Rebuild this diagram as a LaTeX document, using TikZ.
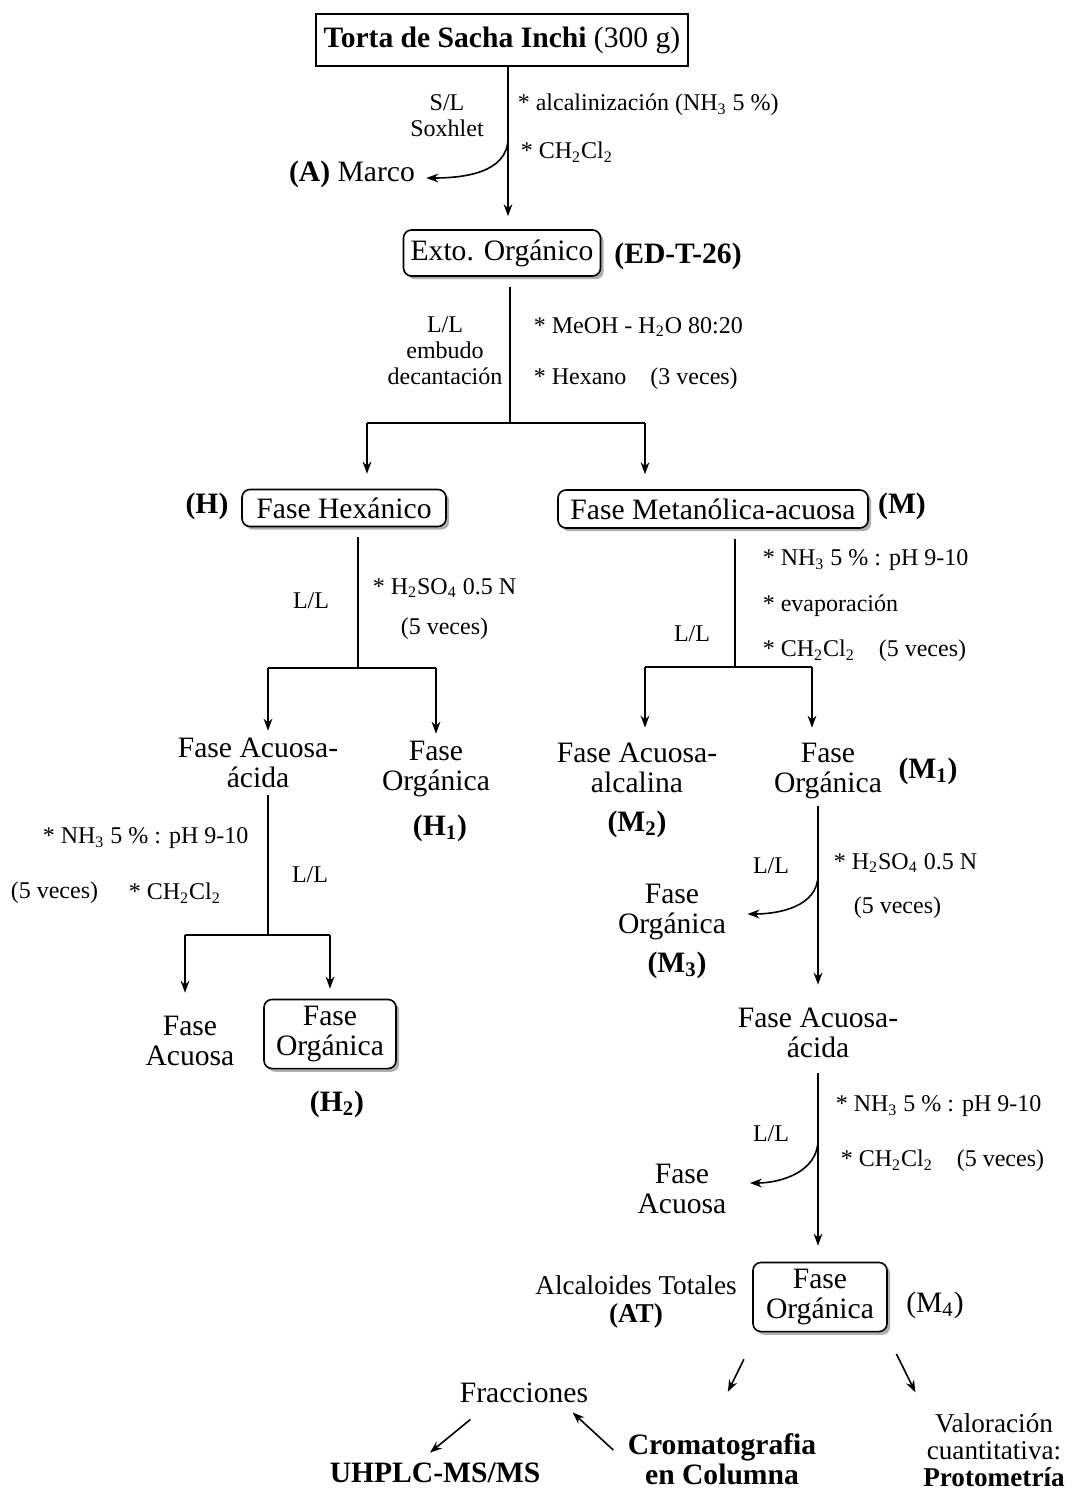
\documentclass[tikz,border=0pt]{standalone}
\usepackage{fontspec}
\setmainfont{Liberation Serif}
\usetikzlibrary{shadows,arrows.meta}
\definecolor{sombra}{RGB}{120,120,120}
\newcommand{\grande}{\fontsize{14.8}{15}\selectfont}
\newcommand{\chico}{\fontsize{12}{13}\selectfont}
\newcommand{\medio}{\fontsize{13.6}{13.6}\selectfont}
\tikzset{
  caja/.style={draw,rounded corners=4pt,fill=white,align=center,font=\grande,
    drop shadow={shadow xshift=1.6pt,shadow yshift=-1.6pt,fill=sombra,opacity=0.6}},
  texto/.style={align=center,font=\grande},
  nota/.style={anchor=west,inner sep=1pt,font=\chico},
  flecha/.style={-{Stealth[length=6pt,width=4.4pt]}},
}

\begin{document}
\begin{tikzpicture}[x=0.5pt,y=-0.5pt,line width=0.8pt]
\useasboundingbox (0,0) rectangle (1077,1494);
% Draw the starting material and the extract
\node[draw,font=\grande,minimum width=186pt,minimum height=26pt] (torta) at (502,40) {\textbf{Torta de Sacha Inchi} (300 g)};
\node[caja,minimum width=98.5pt,minimum height=23pt] (exto) at (502,253) {Exto. Orgánico};
\node[font=\grande\bfseries] (ed) at (678,256) {(ED-T-26)};
\node[texto] (marco) at (352,174) {\textbf{(A)} Marco};
% Soxhlet step
\coordinate (s1) at (508,138);
\draw[flecha,shorten >=6.5pt] ([xshift=3pt]torta.south) -- ([xshift=3pt]exto.north);
\draw[flecha] (s1) to[out=-90,in=0] ([xshift=2pt,yshift=-2pt]marco.east);
\node[font=\chico,align=center] (sl) at (447,116) {S/L\\Soxhlet};
\node[nota] (n1) at (515,105) {* alcalinización (NH\textsubscript{3} 5 \%)};
\node[nota] (n2) at (518,152) {* CH\textsubscript{2}Cl\textsubscript{2}};
% Partition of the extract
\coordinate (j1) at (510,423);
\coordinate (jH) at (367,423);
\coordinate (jM) at (645,423);
\node[caja,minimum width=102pt,minimum height=18.5pt] (hex) at (344,508) {Fase Hexánico};
\node[caja,minimum width=155pt,minimum height=19pt] (met) at (713,509) {Fase Metanólica-acuosa};
\node[font=\grande\bfseries] (lh) at (207,506) {(H)};
\node[font=\grande\bfseries] (lm) at (902,506) {(M)};
\draw[shorten <=5pt] (exto.south -| j1) -- (j1);
\draw (jH) -- (jM);
\draw[flecha,shorten >=7.5pt] (jH) -- (hex.north -| jH);
\draw[flecha,shorten >=7.5pt] (jM) -- (met.north -| jM);
\node[font=\chico,align=center] (ll1) at (445,351) {L/L\\embudo\\decantación};
\node[nota] (n3) at (531,327) {* MeOH - H\textsubscript{2}O 80:20};
\node[nota] (n4) at (531,379) {* Hexano\quad(3 veces)};
% Hexane phase
\coordinate (j2) at (358,668);
\coordinate (jH1) at (268,668);
\coordinate (jH2) at (436,668);
\node[texto] (acidoH) at (258,763) {Fase Acuosa-\\ácida};
\node[texto] (orgH1) at (436,769) {Fase\\Orgánica};
\node[font=\grande\bfseries] (lh1) at (440,828) {(H\textsubscript{1})};
\draw[shorten <=5pt] (hex.south -| j2) -- (j2);
\draw (jH1) -- (jH2);
\draw[flecha] (jH1) -- (acidoH.north -| jH1);
\draw[flecha] (jH2) -- (orgH1.north -| jH2);
\node[font=\chico] (ll2) at (311,601) {L/L};
\node[nota] (n5) at (370,588) {* H\textsubscript{2}SO\textsubscript{4} 0.5 N};
\node[nota] (n6) at (398,629) {(5 veces)};
% Acid aqueous phase of H
\coordinate (j4) at (268,935);
\coordinate (jA) at (185,935);
\coordinate (jB) at (330,935);
\node[texto] (acuosaH) at (190,1041) {Fase\\Acuosa};
\node[caja,minimum width=66pt,minimum height=34.5pt] (orgH2) at (330,1034) {Fase\\Orgánica};
\node[font=\grande\bfseries] (lh2) at (337,1104) {(H\textsubscript{2})};
\draw (acidoH.south -| j4) -- (j4);
\draw (jA) -- (jB);
\draw[flecha,shorten >=8pt] (jA) -- (acuosaH.north -| jA);
\draw[flecha,shorten >=5pt] (jB) -- (orgH2.north -| jB);
\node[font=\chico] (ll3) at (310,875) {L/L};
\node[nota] (n7) at (40,838) {* NH\textsubscript{3} 5 \% : pH 9-10};
\node[nota] (n8) at (8,893) {(5 veces)};
\node[nota] (n9) at (126,893) {* CH\textsubscript{2}Cl\textsubscript{2}};
% Methanolic phase
\coordinate (j3) at (735,667);
\coordinate (jM2) at (645,667);
\coordinate (jM1) at (812,667);
\node[texto] (alcM2) at (637,768) {Fase Acuosa-\\alcalina};
\node[font=\grande\bfseries] (lm2) at (637,824) {(M\textsubscript{2})};
\node[texto] (orgM1) at (828,771) {Fase\\Orgánica};
\node[font=\grande\bfseries] (lm1) at (928,771) {(M\textsubscript{1})};
\draw[shorten <=5pt] (met.south -| j3) -- (j3);
\draw (jM2) -- (jM1);
\draw[flecha,shorten >=4pt] (jM2) -- (alcM2.north -| jM2);
\draw[flecha,shorten >=4pt] (jM1) -- (orgM1.north -| jM1);
\node[font=\chico] (ll4) at (692,634) {L/L};
\node[nota] (n10) at (760,560) {* NH\textsubscript{3} 5 \% : pH 9-10};
\node[nota] (n11) at (760,606) {* evaporación};
\node[nota] (n12) at (760,651) {* CH\textsubscript{2}Cl\textsubscript{2}\quad(5 veces)};
% Organic phase M1
\coordinate (c2) at (818,875);
\node[texto] (orgM3) at (672,912) {Fase\\Orgánica};
\node[font=\grande\bfseries] (lm3) at (677,965) {(M\textsubscript{3})};
\node[texto] (acidoM) at (818,1033) {Fase Acuosa-\\ácida};
\draw[flecha,shorten >=8pt] (orgM1.south -| c2) -- (acidoM.north -| c2);
\draw[flecha] (c2) to[out=-90,in=0] ([xshift=7pt,yshift=-1pt]orgM3.east);
\node[font=\chico] (ll5) at (771,866) {L/L};
\node[nota] (n13) at (831,863) {* H\textsubscript{2}SO\textsubscript{4} 0.5 N};
\node[nota] (n14) at (851,908) {(5 veces)};
% Total alkaloids
\coordinate (c3) at (818,1140);
\node[texto] (acuosaM) at (682,1189) {Fase\\Acuosa};
\node[caja,minimum width=67pt,minimum height=33.5pt] (orgM4) at (820,1297) {Fase\\Orgánica};
\node[font=\grande] (lm4) at (935,1305) {(M\textsubscript{4})};
\node[align=center,font=\medio] (alc) at (636,1302) {Alcaloides Totales\\\textbf{(AT)}};
\draw[flecha,shorten <=4pt,shorten >=8pt] (acidoM.south -| c3) -- (orgM4.north -| c3);
\draw[flecha] (c3) to[out=-90,in=0] ([xshift=8pt,yshift=3pt]acuosaM.east);
\node[font=\chico] (ll6) at (771,1134) {L/L};
\node[nota] (n15) at (833,1106) {* NH\textsubscript{3} 5 \% : pH 9-10};
\node[nota] (n16) at (838,1161) {* CH\textsubscript{2}Cl\textsubscript{2}\quad(5 veces)};
% Analysis
\node[texto] (fracc) at (524,1393) {Fracciones};
\node[texto,font=\grande\bfseries] (croma) at (722,1459) {Cromatografia\\en Columna};
\node[texto,font=\grande\bfseries] (uhplc) at (435,1473) {UHPLC-MS/MS};
\node[align=center,font=\medio] (valor) at (994,1450) {Valoración\\cuantitativa:\\\textbf{Protometría}};
\draw[flecha,shorten <=15pt,shorten >=19pt] ([xshift=2.5pt]orgM4.south west) -- ([xshift=-5.5pt]croma.north);
\draw[flecha,shorten <=12pt,shorten >=7.5pt] ([xshift=-1pt]orgM4.south east) -- ([xshift=-36pt]valor.north);
\draw[flecha] ([xshift=-3.5pt,yshift=4.5pt]croma.west) -- ([xshift=-11.5pt,yshift=-1pt]fracc.south east);
\draw[flecha] ([xshift=9pt,yshift=-4.5pt]fracc.south west) -- ([xshift=-2.5pt,yshift=1.5pt]uhplc.north);
\end{tikzpicture}
\end{document}
